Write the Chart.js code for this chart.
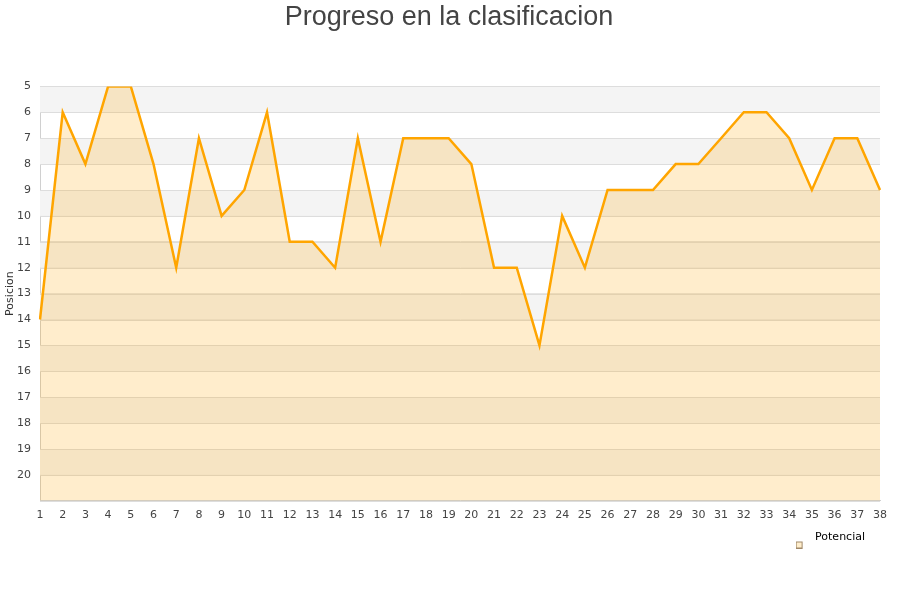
<!DOCTYPE html>
<html>
<head>
<meta charset="utf-8">
<script src="https://cdn.jsdelivr.net/npm/chart.js@4"></script>
<style>
html,body{margin:0;padding:0;background:#fff;}
#wrap{width:900px;height:600px;position:relative;}
</style>
</head>
<body>
<div id="wrap"><canvas id="c" width="900" height="600"></canvas></div>
<script>
const jornadas = ["1","2","3","4","5","6","7","8","9","10","11","12","13","14","15","16","17","18","19","20","21","22","23","24","25","26","27","28","29","30","31","32","33","34","35","36","37","38"];
const posiciones = [14,6,8,5,5,8,12,7,10,9,6,11,11,12,7,11,7,7,7,8,12,12,15,10,12,9,9,9,8,8,7,6,6,7,9,7,7,9];
const seriesName = "Potencial";
const titleText = "Progreso en la clasificacion";
const yTitle = "Posicion";
const yMin = 5, yMax = 21;

// legend marker: small square sitting slightly below the text centre
const marker = document.createElement('canvas');
marker.width = 14; marker.height = 22;
(function () {
  const m = marker.getContext('2d');
  m.fillStyle = '#ffeecc';
  m.fillRect(0.5, 15.5, 6, 6);
  m.strokeStyle = '#a08868';
  m.lineWidth = 1;
  m.strokeRect(0.5, 15.5, 6, 6);
})();

const bands = {
  id: 'bands',
  afterLayout(chart) {
    if (chart.titleBlock) { chart.titleBlock.right += 18; }
    if (chart.legend) { chart.legend.right -= 5; }
  },
  beforeDatasetsDraw(chart) {
    const {ctx, chartArea, scales} = chart;
    const y = scales.y;
    ctx.save();
    ctx.fillStyle = '#f4f4f4';
    for (let v = yMin; v < yMax; v += 2) {
      const a = y.getPixelForValue(v), b = y.getPixelForValue(v + 1);
      ctx.fillRect(chartArea.left, Math.min(a, b), chartArea.right - chartArea.left, Math.abs(b - a));
    }
    ctx.strokeStyle = '#dddddd';
    ctx.lineWidth = 1;
    for (let v = yMin; v <= yMax; v++) {
      const p = Math.round(y.getPixelForValue(v)) + 0.5;
      ctx.beginPath();
      ctx.moveTo(chartArea.left, p);
      ctx.lineTo(chartArea.right, p);
      ctx.stroke();
    }
    ctx.restore();
  }
};

new Chart(document.getElementById('c'), {
  type: 'line',
  data: {
    labels: jornadas,
    datasets: [{
      label: seriesName,
      data: posiciones,
      borderColor: '#ffa500',
      backgroundColor: 'rgba(255,165,0,0.2)',
      borderWidth: 2.5,
      pointRadius: 0,
      tension: 0,
      fill: 'start'
    }]
  },
  options: {
    responsive: false,
    animation: false,
    layout: {padding: {left: 0, right: 20, top: 0, bottom: 47}},
    plugins: {
      title: {
        display: true,
        text: titleText,
        color: '#444',
        font: {family: 'Liberation Sans', size: 27, weight: 'normal'},
        padding: {top: 1, bottom: 53}
      },
      legend: {
        position: 'bottom',
        align: 'end',
        labels: {
          usePointStyle: true,
          pointStyleWidth: 14,
          boxHeight: 9,
          padding: 10,
          color: '#222',
          font: {family: 'DejaVu Sans', size: 11},
          generateLabels(chart) {
            return [{text: seriesName, pointStyle: marker, fillStyle: '#ffeecc', strokeStyle: '#a08868', lineWidth: 1, datasetIndex: 0}];
          }
        }
      },
      tooltip: {enabled: false}
    },
    scales: {
      x: {
        type: 'category',
        offset: false,
        grid: {display: false},
        border: {display: true, color: '#d0d0d0'},
        ticks: {color: '#444', font: {family: 'DejaVu Sans', size: 11}, padding: 0, maxRotation: 0, autoSkip: false}
      },
      y: {
        reverse: true,
        min: yMin,
        max: yMax,
        afterFit(scale) { scale.width = 40; },
        grid: {color: '#dddddd', drawTicks: false},
        border: {display: true, color: '#d0d0d0'},
        ticks: {
          stepSize: 1,
          color: '#444',
          padding: 9,
          font: {family: 'DejaVu Sans', size: 11},
          callback: (v) => (v === yMax ? '' : v)
        },
        title: {display: true, text: yTitle, color: '#333', font: {family: 'DejaVu Sans', size: 11}, padding: {top: 4, bottom: 0}}
      }
    }
  },
  plugins: [bands]
});
</script>
</body>
</html>
